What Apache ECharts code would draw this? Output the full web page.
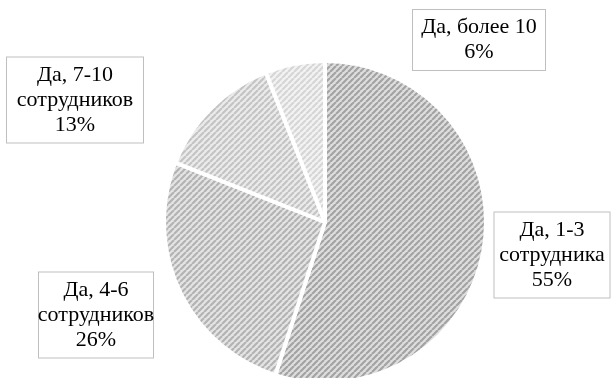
<!DOCTYPE html>
<html><head><meta charset="utf-8">
<script src="https://cdn.jsdelivr.net/npm/echarts@6/dist/echarts.min.js"></script>
<style>html,body{margin:0;padding:0;background:#fff}#c{width:614px;height:378px}</style>
</head><body><div id="c"></div>
<script>
// ---- data ----
const categories = ['Да, 1-3\nсотрудника', 'Да, 4-6\nсотрудников', 'Да, 7-10\nсотрудников', 'Да, более 10'];
const values = [55, 26, 13, 6];

// ---- styles (kept apart from data) ----
const stripeFg = ['#a3a3a3', '#b3b3b3', '#c4c4c4', '#d6d6d6'];
const stripeBg = ['#dedede', '#e4e4e4', '#ebebeb', '#f3f3f3'];
const labelCenters = [[552, 255], [96, 315], [75, 100], [479, 40]];
const labelWidths = [115, 114, 136, 132];

function stripes(fg, bg) {
  const s = 6, c = document.createElement('canvas');
  c.width = s; c.height = s;
  const g = c.getContext('2d');
  g.fillStyle = bg; g.fillRect(0, 0, s, s);
  g.strokeStyle = fg; g.lineWidth = 2.2;
  g.beginPath();
  for (const o of [-s, 0, s]) { g.moveTo(o, s); g.lineTo(o + s, 0); }
  g.stroke();
  return c;
}

const chart = echarts.init(document.getElementById('c'), null, {renderer: 'canvas'});
const data = values.map((v, i) => ({
  name: categories[i],
  value: v,
  itemStyle: { color: { image: stripes(stripeFg[i], stripeBg[i]), repeat: 'repeat' } },
  label: { width: labelWidths[i] }
}));

chart.setOption({
  animation: false,
  series: [{
    type: 'pie',
    center: [325, 222],
    radius: 161,
    startAngle: 90,
    clockwise: true,
    avoidLabelOverlap: false,
    data: data,
    itemStyle: { borderColor: '#ffffff', borderWidth: 4 },
    emphasis: { disabled: true },
    labelLine: { show: false },
    label: {
      show: true,
      position: 'outside',
      formatter: p => p.name + '\n' + p.value + '%',
      fontFamily: 'Liberation Serif',
      fontSize: 22,
      lineHeight: 25,
      color: '#000',
      align: 'center',
      overflow: 'none',
      backgroundColor: '#ffffff',
      borderColor: '#bfbfbf',
      borderWidth: 1,
      padding: [5, 0]
    },
    labelLayout: function (params) {
      const c = labelCenters[params.dataIndex];
      return { x: c[0], y: c[1], align: 'center', verticalAlign: 'middle' };
    }
  }]
});
</script>
</body></html>
